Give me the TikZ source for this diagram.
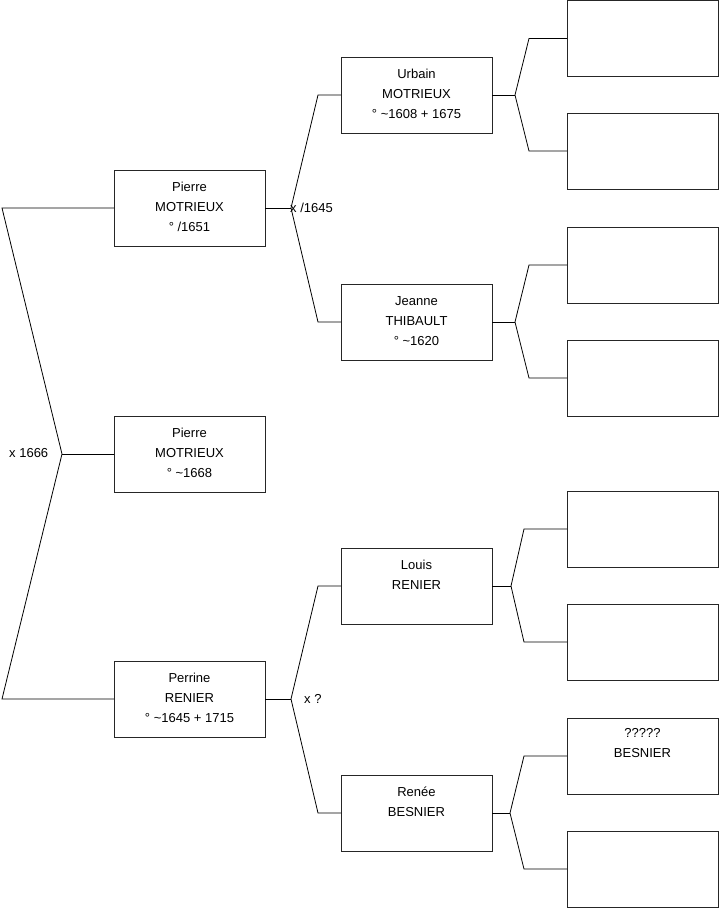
\documentclass[tikz,border=0pt]{standalone}
\usepackage{fontspec}
\setmainfont{Liberation Sans}
\begin{document}
\begin{tikzpicture}[x=1pt,y=-1pt,
  person/.style={draw=black!85, line width=0.8pt, minimum width=151pt, minimum height=76pt, inner sep=0pt, outer sep=0pt, anchor=north west},
  txt/.style={anchor=north, inner sep=0pt, align=center, font=\fontsize{13}{20}\selectfont, yshift=-7.6pt},
  link/.style={draw=black, line width=0.8pt},
  mar/.style={inner sep=0pt, anchor=base west, font=\fontsize{13}{20}\selectfont}]
\useasboundingbox (0,0) rectangle (719,908);
% generation 1
\node[person] (p1) at (114,170) {};
\node[person] (p2) at (114,416) {};
\node[person] (p3) at (114,661) {};
% generation 2
\node[person] (g1) at (341,57) {};
\node[person] (g2) at (341,284) {};
\node[person] (g3) at (341,548) {};
\node[person] (g4) at (341,775) {};
% generation 3
\node[person] (h1) at (567,0.5) {};
\node[person] (h2) at (567,113) {};
\node[person] (h3) at (567,227) {};
\node[person] (h4) at (567,340) {};
\node[person] (h5) at (567,491) {};
\node[person] (h6) at (567,604) {};
\node[person] (h7) at (567,718) {};
\node[person] (h8) at (567,831) {};
% texts
\node[txt] (tp1) at (p1.north) {\strut Pierre\\MOTRIEUX\\° /1651};
\node[txt] (tp2) at (p2.north) {\strut Pierre\\MOTRIEUX\\° \textasciitilde1668};
\node[txt] (tp3) at (p3.north) {\strut Perrine\\RENIER\\° \textasciitilde1645 + 1715};
\node[txt] (tg1) at (g1.north) {\strut Urbain\\MOTRIEUX\\° \textasciitilde1608 + 1675};
\node[txt] (tg2) at (g2.north) {\strut Jeanne\\THIBAULT\\° \textasciitilde1620};
\node[txt] (tg3) at (g3.north) {\strut Louis\\RENIER};
\node[txt] (tg4) at (g4.north) {\strut Renée\\BESNIER};
\node[txt,yshift=2pt] (th7) at (h7.north) {\strut ?????\\BESNIER};
% forks
\coordinate (a0) at (62,454);
\coordinate (c0t) at (2,208);
\coordinate (c0b) at (2,699);
\draw[link] (p1.west) -- (c0t) -- (a0) -- (c0b) -- (p3.west);
\draw[link] (a0) -- (p2.west);
\coordinate (a1) at (291,208);
\draw[link] (p1.east) -- (a1);
\draw[link] (g1.west) -- ([xshift=-23pt]g1.west) -- (a1) -- ([xshift=-23pt]g2.west) -- (g2.west);
\coordinate (a2) at (291,699);
\draw[link] (p3.east) -- (a2);
\draw[link] (g3.west) -- ([xshift=-23pt]g3.west) -- (a2) -- ([xshift=-23pt]g4.west) -- (g4.west);
\coordinate (a3) at (515,95);
\draw[link] (g1.east) -- (a3);
\draw[link] (h1.west) -- ([xshift=-38pt]h1.west) -- (a3) -- ([xshift=-38pt]h2.west) -- (h2.west);
\coordinate (a4) at (515,322);
\draw[link] (g2.east) -- (a4);
\draw[link] (h3.west) -- ([xshift=-38pt]h3.west) -- (a4) -- ([xshift=-38pt]h4.west) -- (h4.west);
\coordinate (a5) at (511,586);
\draw[link] (g3.east) -- (a5);
\draw[link] (h5.west) -- ([xshift=-43pt]h5.west) -- (a5) -- ([xshift=-43pt]h6.west) -- (h6.west);
\coordinate (a6) at (510,813);
\draw[link] (g4.east) -- (a6);
\draw[link] (h7.west) -- ([xshift=-43pt]h7.west) -- (a6) -- ([xshift=-43pt]h8.west) -- (h8.west);
% marriage labels
\node[mar] (m0) at (9,457.5) {x 1666};
\node[mar] (m1) at (290,212.5) {x /1645};
\node[mar] (m2) at (304,703) {x ?};
\end{tikzpicture}
\end{document}
